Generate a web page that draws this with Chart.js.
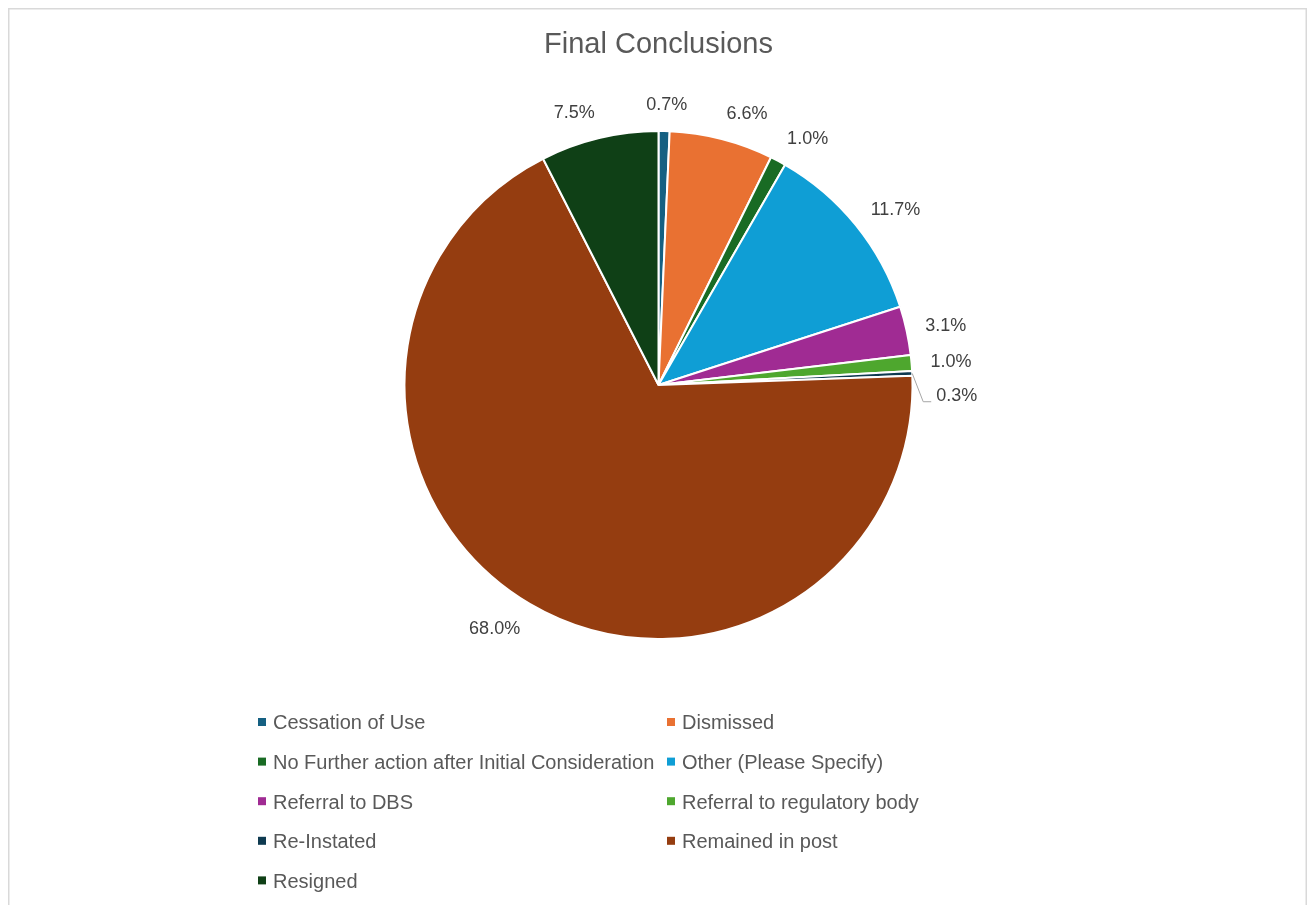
<!DOCTYPE html>
<html>
<head>
<meta charset="utf-8">
<title>Final Conclusions</title>
<script src="https://cdn.jsdelivr.net/npm/chart.js@4.4.1/dist/chart.umd.min.js"></script>
<style>
  html, body { margin: 0; padding: 0; background: #ffffff; }
  canvas { display: block; }
</style>
</head>
<body>
<canvas id="chart" width="1309" height="905"></canvas>
<script>
// Outcome categories and their share of all cases (percent)
const categories = [
  'Cessation of Use',
  'Dismissed',
  'No Further action after Initial Consideration',
  'Other (Please Specify)',
  'Referral to DBS',
  'Referral to regulatory body',
  'Re-Instated',
  'Remained in post',
  'Resigned'
];
const shares = [0.7, 6.6, 1.0, 11.7, 3.1, 1.0, 0.3, 68.0, 7.5];
const sliceColors = [
  '#156082', '#E97132', '#196B24', '#0F9ED5', '#A02B93',
  '#4EA72E', '#0E3A50', '#953D10', '#0F4016'
];

const FONT = '"Liberation Sans", Arial, sans-serif';

// Thin light frame around the whole chart
const frame = {
  id: 'frame',
  beforeDraw(chart) {
    const ctx = chart.ctx;
    ctx.save();
    ctx.strokeStyle = '#d9d9d9';
    ctx.lineWidth = 1.5;
    ctx.strokeRect(8.75, 8.75, chart.width - 11.5, chart.height + 20);
    ctx.restore();
  }
};

// Percentage labels just outside each slice, with a leader line when a label had to move
const outsideLabels = {
  id: 'outsideLabels',
  afterDatasetsDraw(chart) {
    const ctx = chart.ctx;
    const meta = chart.getDatasetMeta(0);
    const values = chart.data.datasets[0].data;
    const clamp = v => Math.max(-1, Math.min(1, v));
    ctx.save();
    ctx.font = '18px ' + FONT;
    ctx.fillStyle = '#404040';
    ctx.textAlign = 'center';
    ctx.textBaseline = 'alphabetic';
    const boxH = 20, capHalf = 6.4;
    const placed = [];
    meta.data.forEach((arc, i) => {
      const p = arc.getProps(['x', 'y', 'startAngle', 'endAngle', 'outerRadius'], true);
      const a = (p.startAngle + p.endAngle) / 2 + Math.PI / 2; // clockwise from 12 o'clock
      const s = Math.sin(a), c = Math.cos(a);
      const text = values[i].toFixed(1) + '%';
      const w = ctx.measureText(text).width;
      const d = p.outerRadius + 17;
      const px = p.x + d * s, py = p.y - d * c;
      let cx = px + (w / 2) * clamp(s * 5) + 2 * s;
      let cy = py - (boxH / 2) * c;
      let moved = false;
      for (const b of placed) {
        const overlapX = Math.abs(cx - b.cx) < (w + b.w) / 2;
        const overlapY = Math.abs(cy - b.cy) < boxH;
        if (overlapX && overlapY) {
          cy = b.cy + boxH / 2 + 14 + boxH / 2;
          cx += 5;
          moved = true;
        }
      }
      placed.push({ cx, cy, w });
      if (moved) {
        const left = cx - w / 2;
        ctx.save();
        ctx.strokeStyle = '#a6a6a6';
        ctx.lineWidth = 1;
        ctx.beginPath();
        ctx.moveTo(p.x + p.outerRadius * s, p.y - p.outerRadius * c);
        ctx.lineTo(left - 13, cy + 7);
        ctx.lineTo(left - 5, cy + 7);
        ctx.stroke();
        ctx.restore();
      }
      ctx.fillText(text, cx, cy + capHalf);
    });
    ctx.restore();
  }
};

// Two-column legend beneath the pie
const gridLegend = {
  id: 'gridLegend',
  afterDraw(chart) {
    const ctx = chart.ctx;
    const items = Chart.overrides.pie.plugins.legend.labels.generateLabels(chart);
    const colX = [258, 667];
    const top = 722, step = 39.6, box = 8, gap = 7;
    ctx.save();
    ctx.font = '20px ' + FONT;
    ctx.textAlign = 'left';
    ctx.textBaseline = 'alphabetic';
    items.forEach((item, i) => {
      const x = colX[i % 2];
      const y = top + Math.floor(i / 2) * step;
      ctx.fillStyle = item.fillStyle;
      ctx.fillRect(x, y - box / 2, box, box);
      ctx.fillStyle = '#595959';
      ctx.fillText(item.text, x + box + gap, y + 7.4);
    });
    ctx.restore();
  }
};

new Chart(document.getElementById('chart'), {
  type: 'pie',
  data: {
    labels: categories,
    datasets: [{
      data: shares,
      backgroundColor: sliceColors,
      borderColor: '#ffffff',
      borderWidth: 2
    }]
  },
  options: {
    responsive: false,
    animation: false,
    layout: { padding: { left: 204, right: 196, top: 0, bottom: 265 } },
    plugins: {
      legend: { display: false },
      tooltip: { enabled: false },
      title: {
        display: true,
        text: 'Final Conclusions',
        color: '#595959',
        font: { family: FONT, size: 29, weight: 'normal' },
        padding: { top: 27.6, bottom: 67.6 }
      }
    }
  },
  plugins: [frame, outsideLabels, gridLegend]
});
</script>
</body>
</html>
